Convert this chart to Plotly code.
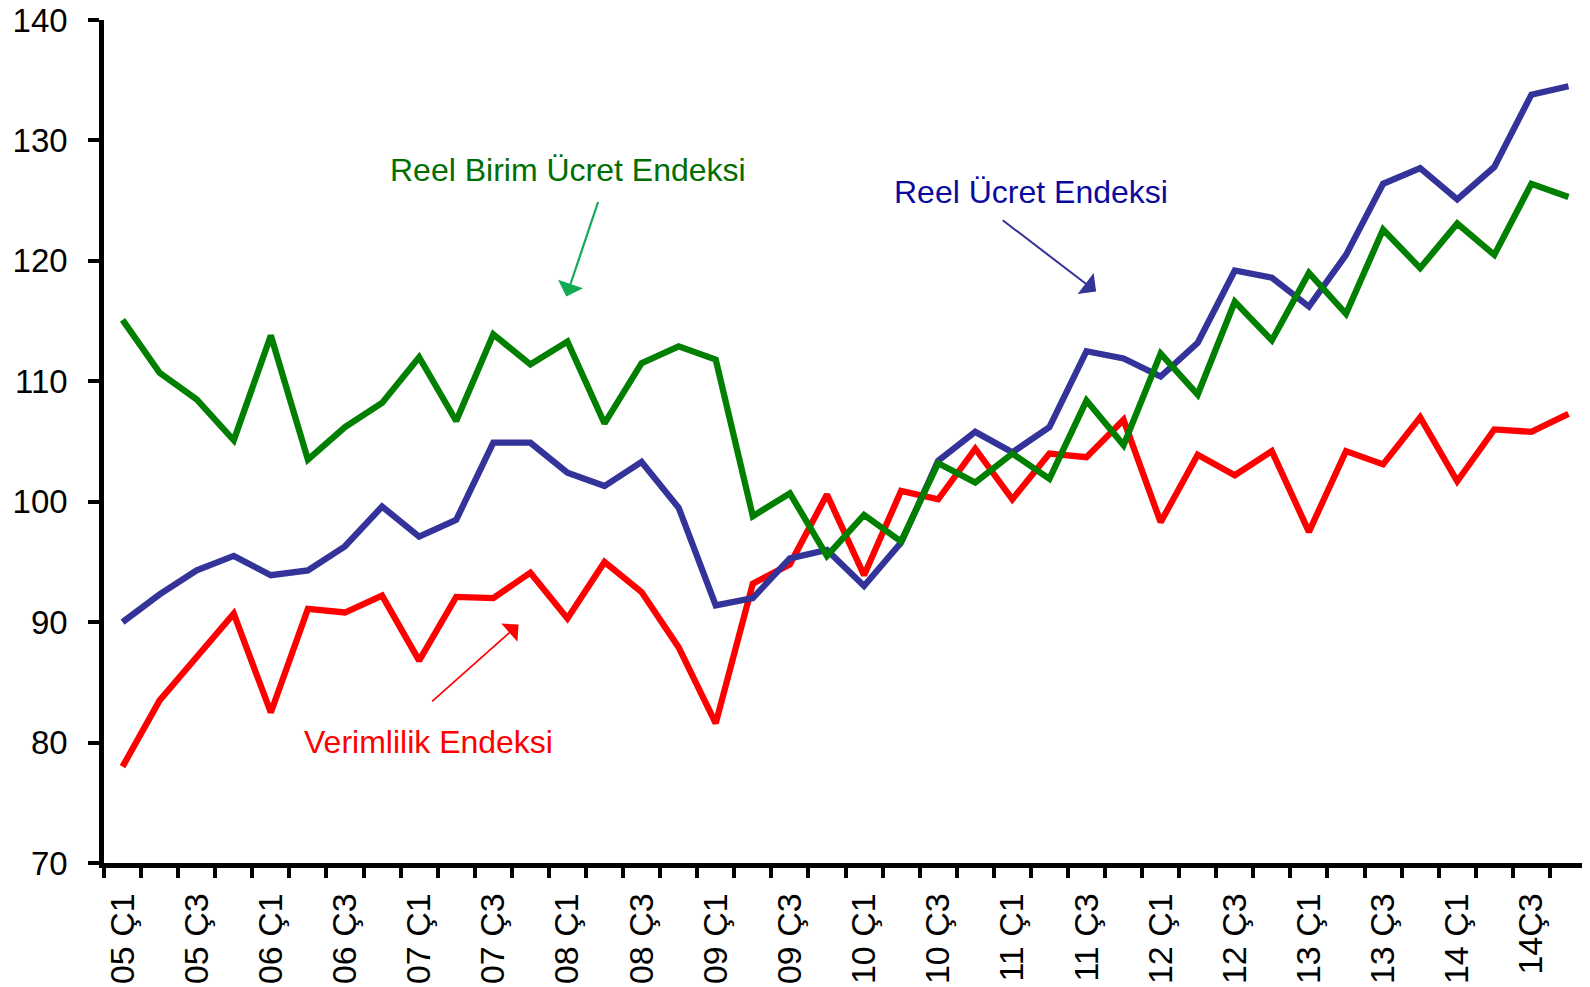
import plotly.graph_objects as go

# ---- data ----
quarters = [
    "05 Ç1", "05 Ç2", "05 Ç3", "05 Ç4",
    "06 Ç1", "06 Ç2", "06 Ç3", "06 Ç4",
    "07 Ç1", "07 Ç2", "07 Ç3", "07 Ç4",
    "08 Ç1", "08 Ç2", "08 Ç3", "08 Ç4",
    "09 Ç1", "09 Ç2", "09 Ç3", "09 Ç4",
    "10 Ç1", "10 Ç2", "10 Ç3", "10 Ç4",
    "11 Ç1", "11 Ç2", "11 Ç3", "11 Ç4",
    "12 Ç1", "12 Ç2", "12 Ç3", "12 Ç4",
    "13 Ç1", "13 Ç2", "13 Ç3", "13 Ç4",
    "14 Ç1", "14 Ç2", "14Ç3", "14 Ç4",
]
shown_labels = [
    "05 Ç1", "05 Ç3", "06 Ç1", "06 Ç3", "07 Ç1", "07 Ç3", "08 Ç1", "08 Ç3",
    "09 Ç1", "09 Ç3", "10 Ç1", "10 Ç3", "11 Ç1", "11 Ç3", "12 Ç1", "12 Ç3",
    "13 Ç1", "13 Ç3", "14 Ç1", "14Ç3",
]

verimlilik = [
    78.0, 83.5, 87.1, 90.7, 82.5, 91.1, 90.8, 92.2, 86.8, 92.1,
    92.0, 94.1, 90.3, 95.0, 92.5, 87.9, 81.6, 93.2, 94.8, 100.6,
    93.9, 100.9, 100.2, 104.4, 100.2, 104.0, 103.7, 106.8, 98.3, 103.9,
    102.2, 104.2, 97.5, 104.2, 103.1, 107.0, 101.7, 106.0, 105.8, 107.3,
]
reel_ucret = [
    90.0, 92.3, 94.3, 95.5, 93.9, 94.3, 96.3, 99.6, 97.1, 98.5,
    104.9, 104.9, 102.4, 101.3, 103.3, 99.5, 91.4, 92.0, 95.3, 96.0,
    93.0, 96.6, 103.4, 105.8, 104.1, 106.2, 112.5, 111.9, 110.4, 113.2,
    119.2, 118.6, 116.2, 120.5, 126.4, 127.7, 125.1, 127.8, 133.8, 134.5,
]
reel_birim_ucret = [
    115.1, 110.7, 108.5, 105.1, 113.8, 103.5, 106.2, 108.2, 112.0, 106.7,
    113.9, 111.4, 113.3, 106.5, 111.5, 112.9, 111.8, 98.8, 100.7, 95.5,
    98.9, 96.7, 103.2, 101.6, 104.0, 101.9, 108.4, 104.7, 112.3, 108.9,
    116.6, 113.4, 119.0, 115.6, 122.6, 119.4, 123.1, 120.5, 126.4, 125.3,
]

FONT = "Liberation Sans, Arial, sans-serif"

fig = go.Figure()
fig.add_trace(go.Scatter(x=quarters, y=verimlilik, mode="lines",
                         name="Verimlilik Endeksi",
                         line=dict(color="#FF0000", width=6.3)))
fig.add_trace(go.Scatter(x=quarters, y=reel_ucret, mode="lines",
                         name="Reel Ücret Endeksi",
                         line=dict(color="#333399", width=6.3)))
fig.add_trace(go.Scatter(x=quarters, y=reel_birim_ucret, mode="lines",
                         name="Reel Birim Ücret Endeksi",
                         line=dict(color="#007F00", width=6.3)))

ticktext = [q if q in shown_labels else "" for q in quarters]

annotations = [
    # texts
    dict(x=12.02, y=127.56, text="Reel Birim Ücret Endeksi", showarrow=False,
         font=dict(family=FONT, size=32, color="#006E00"), xanchor="center", yanchor="middle"),
    dict(x=24.51, y=125.74, text="Reel Ücret Endeksi", showarrow=False,
         font=dict(family=FONT, size=32, color="#0A0A9E"), xanchor="center", yanchor="middle"),
    dict(x=8.24, y=80.04, text="Verimlilik Endeksi", showarrow=False,
         font=dict(family=FONT, size=32, color="#FF0000"), xanchor="center", yanchor="middle"),
    # arrows
    dict(x=11.97, y=117.04, ax=12.84, ay=125.01, axref="x", ayref="y", text="",
         showarrow=True, arrowhead=1, arrowsize=2.0, arrowwidth=2.2, arrowcolor="#14AA55"),
    dict(x=26.26, y=117.45, ax=23.70, ay=123.47, axref="x", ayref="y", text="",
         showarrow=True, arrowhead=1, arrowsize=2.2, arrowwidth=2, arrowcolor="#333399"),
    dict(x=10.68, y=89.80, ax=8.31, ay=83.31, axref="x", ayref="y", text="",
         showarrow=True, arrowhead=1, arrowsize=2.4, arrowwidth=1.7, arrowcolor="#FF0000"),
]

fig.update_layout(
    width=1590, height=987,
    margin=dict(l=96, r=11, t=12, b=132),
    paper_bgcolor="white", plot_bgcolor="white",
    showlegend=False,
    font=dict(family=FONT, color="black"),
    annotations=annotations,
)
fig.update_xaxes(
    type="category", categoryorder="array", categoryarray=quarters,
    range=[-0.5, len(quarters) - 0.5],
    tickmode="array", tickvals=quarters, ticktext=ticktext,
    tickson="boundaries",
    ticks="outside", ticklen=10, tickwidth=3.5, tickcolor="black",
    tickangle=-90, tickfont=dict(family=FONT, size=34, color="black"),
    ticklabelstandoff=12, ticklabeloverflow="allow",
    showline=True, linewidth=4.5, linecolor="black",
    showgrid=False, zeroline=False, automargin=False,
)
fig.update_yaxes(
    range=[70, 140], tickmode="linear", tick0=70, dtick=10,
    ticks="outside", ticklen=11, tickwidth=3.5, tickcolor="black",
    tickfont=dict(family=FONT, size=33, color="black"),
    ticklabelstandoff=14, ticklabeloverflow="allow",
    showline=True, linewidth=4.5, linecolor="black",
    showgrid=False, zeroline=False, automargin=False,
)

fig.write_html("out.html")
